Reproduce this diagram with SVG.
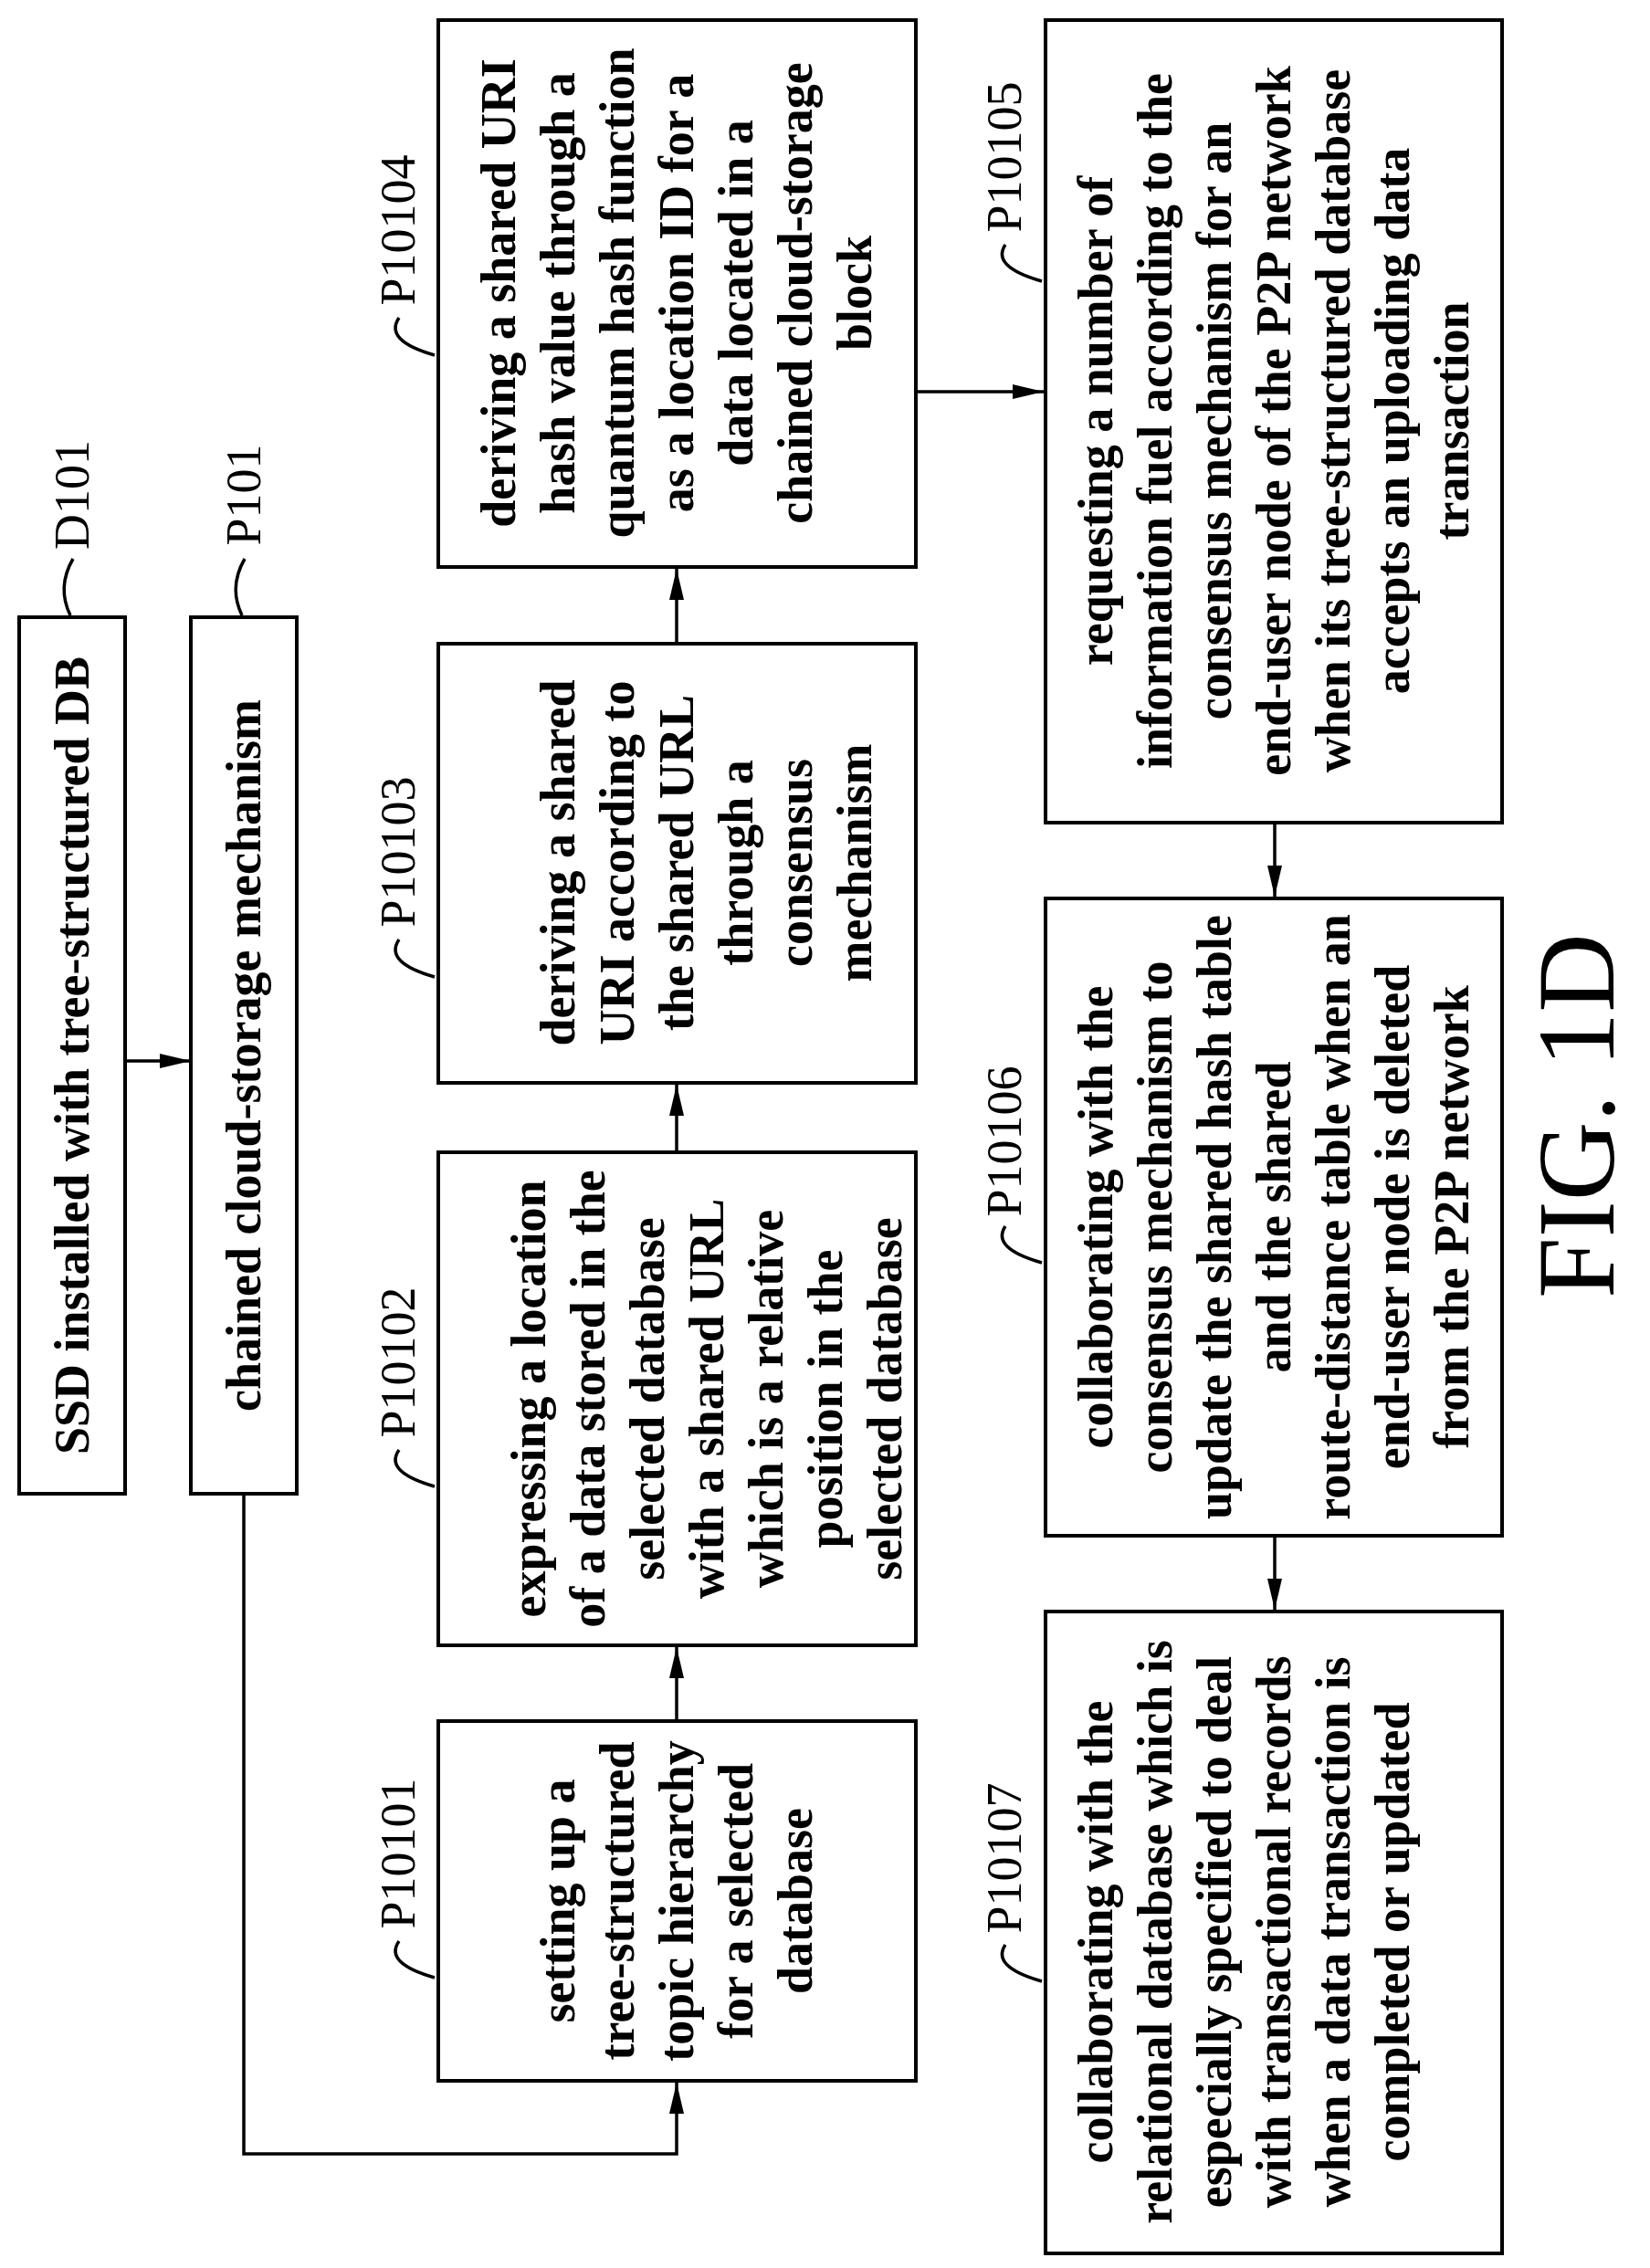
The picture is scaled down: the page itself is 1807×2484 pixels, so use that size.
<svg xmlns="http://www.w3.org/2000/svg" width="1807" height="2484" viewBox="0 0 1807 2484">
<style>
.b{fill:#fff;stroke:#000;stroke-width:4}
.t{font-family:"Liberation Serif",serif;font-size:54px;font-weight:bold;text-anchor:middle}
.l{font-family:"Liberation Serif",serif;font-size:54px;text-anchor:middle}
.c{fill:none;stroke:#000;stroke-width:3.5}
.a{fill:none;stroke:#000;stroke-width:3.5;marker-end:url(#ar)}
</style>
<defs><marker id="ar" markerWidth="12" markerHeight="10" refX="12" refY="5" orient="auto" markerUnits="userSpaceOnUse" viewBox="0 0 12 10"><path d="M0,0L12,5L0,10z"/></marker>
<marker id="ar2" markerWidth="34" markerHeight="16" refX="34" refY="8" orient="auto" markerUnits="userSpaceOnUse"><path d="M0,0L34,8L0,16z"/></marker></defs>
<g id="D101"><rect class="b" x="21" y="676" width="116" height="960"/><text class="t" transform="translate(79,1156) rotate(-90)" y="18">SSD installed with tree-structured DB</text><text class="l" transform="translate(79,542) rotate(-90)" y="18">D101</text><path class="c" d="M80,612 Q62,643 77,674"/></g>
<g id="P101"><rect class="b" x="209" y="676" width="116" height="960"/><text class="t" transform="translate(267,1156) rotate(-90)" y="18">chained cloud-storage mechanism</text><text class="l" transform="translate(267,542) rotate(-90)" y="18">P101</text><path class="c" d="M268,612 Q250,643 265,674"/></g>
<g id="P10101"><rect class="b" x="480" y="1885" width="523" height="394"/><text class="t" transform="translate(741,2082) rotate(-90)"><tspan x="0" y="-112">setting up a</tspan><tspan x="0" y="-47">tree-structured</tspan><tspan x="0" y="18">topic hierarchy</tspan><tspan x="0" y="83">for a selected</tspan><tspan x="0" y="148">database</tspan></text><text class="l" transform="translate(436,2030) rotate(-90)" y="18">P10101</text><path class="c" d="M437,2126 Q420,2150 476,2166"/></g>
<g id="P10102"><rect class="b" x="480" y="1262" width="523" height="540"/><text class="t" transform="translate(741,1532) rotate(-90)"><tspan x="0" y="-144">expressing a location</tspan><tspan x="0" y="-79">of a data stored in the</tspan><tspan x="0" y="-14">selected database</tspan><tspan x="0" y="51">with a shared URL</tspan><tspan x="0" y="116">which is a relative</tspan><tspan x="0" y="181">position in the</tspan><tspan x="0" y="246">selected database</tspan></text><text class="l" transform="translate(436,1492) rotate(-90)" y="18">P10102</text><path class="c" d="M437,1588 Q420,1612 476,1628"/></g>
<g id="P10103"><rect class="b" x="480" y="705" width="523" height="481"/><text class="t" transform="translate(741,945) rotate(-90)"><tspan x="0" y="-112">deriving a shared</tspan><tspan x="0" y="-47">URI according to</tspan><tspan x="0" y="18">the shared URL</tspan><tspan x="0" y="83">through a</tspan><tspan x="0" y="148">consensus</tspan><tspan x="0" y="213">mechanism</tspan></text><text class="l" transform="translate(436,933) rotate(-90)" y="18">P10103</text><path class="c" d="M437,1029 Q420,1054 476,1070"/></g>
<g id="P10104"><rect class="b" x="480" y="22" width="523" height="599"/><text class="t" transform="translate(741,321) rotate(-90)"><tspan x="0" y="-177">deriving a shared URI</tspan><tspan x="0" y="-112">hash value through a</tspan><tspan x="0" y="-47">quantum hash function</tspan><tspan x="0" y="18">as a location ID for a</tspan><tspan x="0" y="83">data located in a</tspan><tspan x="0" y="148">chained cloud-storage</tspan><tspan x="0" y="213">block</tspan></text><text class="l" transform="translate(436,252) rotate(-90)" y="18">P10104</text><path class="c" d="M437,348 Q420,373 476,389"/></g>
<g id="P10105"><rect class="b" x="1145" y="22" width="500" height="879"/><text class="t" transform="translate(1395,461) rotate(-90)"><tspan x="0" y="-177">requesting a number of</tspan><tspan x="0" y="-112">information fuel according to the</tspan><tspan x="0" y="-47">consensus mechanism for an</tspan><tspan x="0" y="18">end-user node of the P2P network</tspan><tspan x="0" y="83">when its tree-structured database</tspan><tspan x="0" y="148">accepts an uploading data</tspan><tspan x="0" y="213">transaction</tspan></text><text class="l" transform="translate(1100,172) rotate(-90)" y="18">P10105</text><path class="c" d="M1101,268 Q1085,292 1141,308"/></g>
<g id="P10106"><rect class="b" x="1145" y="984" width="500" height="698"/><text class="t" transform="translate(1395,1333) rotate(-90)"><tspan x="0" y="-177">collaborating with the</tspan><tspan x="0" y="-112">consensus mechanism to</tspan><tspan x="0" y="-47">update the shared hash table</tspan><tspan x="0" y="18">and the shared</tspan><tspan x="0" y="83">route-distance table when an</tspan><tspan x="0" y="148">end-user node is deleted</tspan><tspan x="0" y="213">from the P2P network</tspan></text><text class="l" transform="translate(1100,1250) rotate(-90)" y="18">P10106</text><path class="c" d="M1101,1343 Q1085,1367 1141,1383"/></g>
<g id="P10107"><rect class="b" x="1145" y="1765" width="500" height="703"/><text class="t" transform="translate(1395,2116) rotate(-90)"><tspan x="0" y="-177">collaborating with the</tspan><tspan x="0" y="-112">relational database which is</tspan><tspan x="0" y="-47">especially specified to deal</tspan><tspan x="0" y="18">with transactional records</tspan><tspan x="0" y="83">when a data transaction is</tspan><tspan x="0" y="148">completed or updated</tspan></text><text class="l" transform="translate(1100,2035) rotate(-90)" y="18">P10107</text><path class="c" d="M1101,2130 Q1085,2154 1141,2170"/></g>
<text class="l" style="font-size:120px" transform="translate(1727,1222) rotate(-90)" y="40">FIG. 1D</text>
<g id="connectors" fill="none" stroke="#000" stroke-width="3.5">
<path d="M137,1162H209" marker-end="url(#ar2)"/>
<path d="M267,1636V2359H741V2281" marker-end="url(#ar2)"/>
<path d="M741,1885V1804" marker-end="url(#ar2)"/>
<path d="M741,1262V1188" marker-end="url(#ar2)"/>
<path d="M741,705V623" marker-end="url(#ar2)"/>
<path d="M1003,429H1143" marker-end="url(#ar2)"/>
<path d="M1396,901V982" marker-end="url(#ar2)"/>
<path d="M1396,1682V1763" marker-end="url(#ar2)"/>
</g>
</svg>
